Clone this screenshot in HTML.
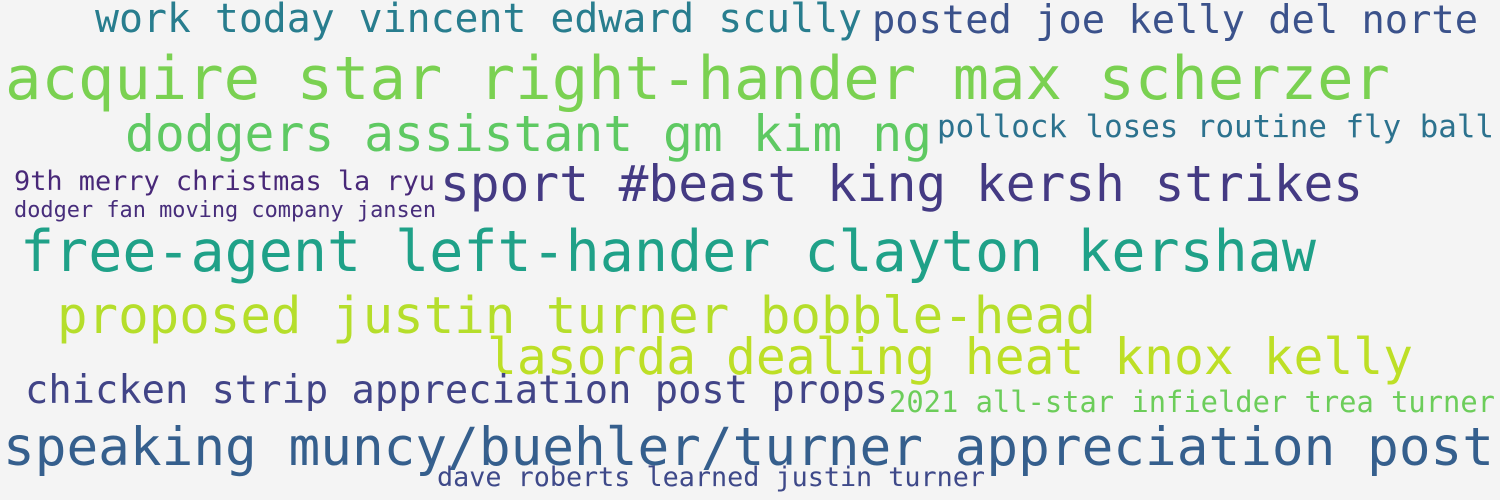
<!DOCTYPE html>
<html><head><meta charset="utf-8"><style>
html,body{margin:0;padding:0;background:#f4f4f4;}
svg{display:block;}
text{font-family:"DejaVu Sans Mono","Liberation Mono",monospace;}
</style></head><body>
<svg width="1500" height="500" xmlns="http://www.w3.org/2000/svg">
<rect width="1500" height="500" fill="#f4f4f4"/>
<text x="95" y="32" font-size="40" fill="#287d8e" textLength="767" lengthAdjust="spacingAndGlyphs">work today vincent edward scully</text>
<text x="872" y="33" font-size="39" fill="#3b528b" textLength="606" lengthAdjust="spacingAndGlyphs">posted joe kelly del norte</text>
<text x="5" y="99" font-size="60" fill="#7ad151" textLength="1385" lengthAdjust="spacingAndGlyphs">acquire star right-hander max scherzer</text>
<text x="125" y="151" font-size="50" fill="#5ec962" textLength="807" lengthAdjust="spacingAndGlyphs">dodgers assistant gm kim ng</text>
<text x="937" y="137" font-size="31" fill="#2c728e" textLength="557" lengthAdjust="spacingAndGlyphs">pollock loses routine fly ball</text>
<text x="14" y="190" font-size="27" fill="#482878" textLength="421" lengthAdjust="spacingAndGlyphs">9th merry christmas la ryu</text>
<text x="14" y="217" font-size="22" fill="#472d7b" textLength="422" lengthAdjust="spacingAndGlyphs">dodger fan moving company jansen</text>
<text x="440" y="201" font-size="50" fill="#443a83" textLength="923" lengthAdjust="spacingAndGlyphs">sport #beast king kersh strikes</text>
<text x="20" y="271" font-size="57" fill="#1fa188" textLength="1296" lengthAdjust="spacingAndGlyphs">free-agent left-hander clayton kershaw</text>
<text x="57" y="333" font-size="51" fill="#b5de2b" textLength="1039" lengthAdjust="spacingAndGlyphs">proposed justin turner bobble-head</text>
<text x="487" y="374" font-size="50" fill="#bddf26" textLength="926" lengthAdjust="spacingAndGlyphs">lasorda dealing heat knox kelly</text>
<text x="25" y="403" font-size="39" fill="#414487" textLength="863" lengthAdjust="spacingAndGlyphs">chicken strip appreciation post props</text>
<text x="889" y="412" font-size="29" fill="#6ccd5a" textLength="606" lengthAdjust="spacingAndGlyphs">2021 all-star infielder trea turner</text>
<text x="3" y="465" font-size="53" fill="#355f8d" textLength="1491" lengthAdjust="spacingAndGlyphs">speaking muncy/buehler/turner appreciation post</text>
<text x="437" y="486" font-size="27" fill="#3e4989" textLength="548" lengthAdjust="spacingAndGlyphs">dave roberts learned justin turner</text>
</svg>
</body></html>
